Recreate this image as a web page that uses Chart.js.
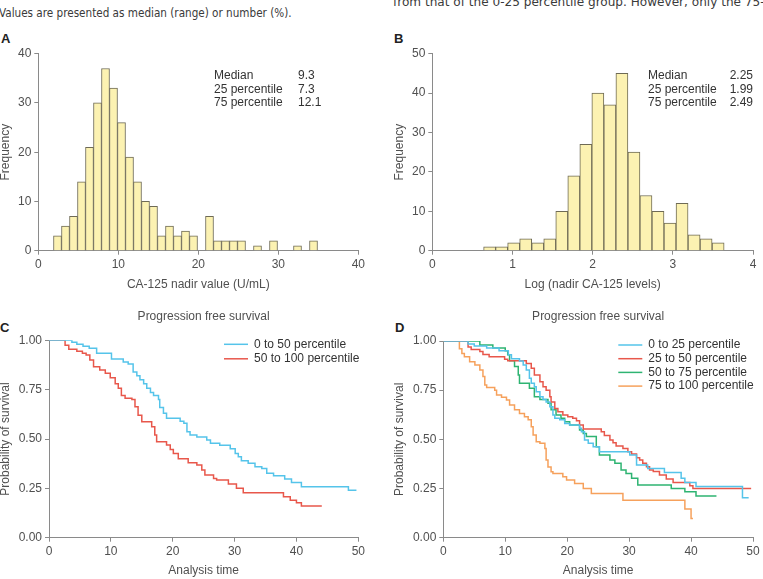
<!DOCTYPE html>
<html>
<head>
<meta charset="utf-8">
<script src="https://cdn.jsdelivr.net/npm/chart.js@4"></script>
<style>
  body { margin: 0; background: #fff; width: 763px; height: 579px; overflow: hidden; position: relative; font-family: "Liberation Sans", Arial, sans-serif; }
  canvas { position: absolute; }
  .txt { position: absolute; white-space: nowrap; color: #3a3a3a; font-family: "Liberation Sans Narrow", "DejaVu Sans Condensed", "Liberation Sans", sans-serif; font-size: 13px; transform-origin: 0 50%; }
  .lab { position: absolute; font-weight: bold; font-size: 13px; color: #222; font-family: "Liberation Sans", Arial, sans-serif; }
</style>
</head>
<body>
<div class="txt" id="t1" style="left:-1px; top:5px;">Values are presented as median (range) or number (%).</div>
<div class="txt" id="t2" style="left:393px; top:-6px;">from that of the 0-25 percentile group. However, only the 75-</div>
<div class="lab" style="left:1px; top:31px;">A</div>
<div class="lab" style="left:394px; top:31px;">B</div>
<div class="lab" style="left:0px; top:320px;">C</div>
<div class="lab" style="left:395px; top:320px;">D</div>
<canvas id="chartA" width="380" height="260" style="left:0; top:40px;"></canvas>
<canvas id="chartB" width="380" height="260" style="left:383px; top:40px;"></canvas>
<canvas id="chartC" width="380" height="279" style="left:0; top:300px;"></canvas>
<canvas id="chartD" width="380" height="279" style="left:383px; top:300px;"></canvas>
<script>
'use strict';

// 上のテキストの幅を元画像に合わせる
[['t1', 293], ['t2', 372]].forEach(([id, w]) => {
  const el = document.getElementById(id);
  el.style.transform = 'scaleX(' + (w / el.offsetWidth) + ')';
});

// A: CA-125 nadir value のヒストグラム (幅 1.0, 1.9 から)
const binStartA = 1.9;
const binWidthA = 1.0;
const countsA = [3, 5, 7, 14, 21, 30, 37, 33, 26, 19, 14, 10, 9, 3, 5, 3, 4, 3, 0, 7, 2, 2, 2, 2, 0, 1, 0, 2, 0, 0, 1, 0, 2];
const statsA = [['Median', '9.3'], ['25 percentile', '7.3'], ['75 percentile', '12.1']];

// B: Log (nadir CA-125) のヒストグラム
const binStartB = 0.64;
const binWidthB = 0.15;
const countsB = [1, 1, 2, 3, 2, 3, 10, 19, 27, 40, 37, 45, 25, 14, 10, 7, 12, 4, 3, 2];
const statsB = [['Median', '2.25'], ['25 percentile', '1.99'], ['75 percentile', '2.49']];

// C: 2群の生存曲線
const labelsC = ['0 to 50 percentile', '50 to 100 percentile'];
const timeC1 = [0, 3.7, 4.5, 5.5, 6.5, 7.7, 10.1, 12.0, 12.8, 13.6, 14.2, 14.7, 15.3, 15.8, 16.4, 16.9, 17.7, 17.9, 18.5, 19.0, 21.2, 21.8, 22.3, 22.8, 23.9, 25.5, 26.1, 27.6, 29.3, 30.1, 30.6, 31.1, 32.2, 33.3, 34.4, 35.2, 36.3, 38.1, 39.2, 40.8, 48.4, 49.7];
const survC1 = [1, 0.99, 0.98, 0.97, 0.96, 0.935, 0.905, 0.89, 0.88, 0.84, 0.82, 0.80, 0.78, 0.757, 0.735, 0.72, 0.70, 0.66, 0.63, 0.605, 0.59, 0.58, 0.537, 0.52, 0.51, 0.495, 0.478, 0.468, 0.45, 0.427, 0.41, 0.39, 0.377, 0.36, 0.35, 0.326, 0.314, 0.297, 0.28, 0.258, 0.24, 0.24];
const timeC2 = [0, 2.6, 3.2, 4.5, 5.4, 6.0, 6.6, 7.2, 8.2, 9.1, 9.9, 10.7, 11.2, 11.7, 12.3, 13.4, 13.9, 14.4, 15.0, 16.6, 17.1, 17.4, 19.0, 19.6, 20.1, 20.9, 22.5, 23.9, 24.7, 25.2, 26.6, 27.1, 29.0, 30.3, 31.4, 37.9, 39.0, 40.0, 40.8, 44.1];
const survC2 = [1, 0.975, 0.955, 0.945, 0.935, 0.925, 0.90, 0.866, 0.85, 0.833, 0.81, 0.78, 0.757, 0.72, 0.706, 0.70, 0.664, 0.62, 0.588, 0.562, 0.52, 0.486, 0.47, 0.447, 0.427, 0.40, 0.38, 0.368, 0.343, 0.318, 0.30, 0.292, 0.272, 0.25, 0.228, 0.208, 0.19, 0.177, 0.16, 0.16];

// D: 4群の生存曲線
const labelsD = ['0 to 25 percentile', '25 to 50 percentile', '50 to 75 percentile', '75 to 100 percentile'];
const timeD1 = [0, 4.0, 5.0, 7.0, 9.0, 10.5, 11.0, 12.3, 12.9, 13.4, 13.9, 14.2, 14.7, 15.0, 15.6, 16.1, 16.6, 17.2, 17.7, 18.0, 18.8, 19.6, 20.4, 22.0, 22.3, 22.8, 23.4, 24.2, 25.2, 30.1, 31.2, 33.0, 35.7, 38.4, 39.0, 40.8, 48.3, 49.3];
const survD1 = [1, 0.985, 0.975, 0.965, 0.95, 0.93, 0.91, 0.898, 0.878, 0.853, 0.81, 0.785, 0.768, 0.742, 0.717, 0.703, 0.69, 0.666, 0.624, 0.607, 0.60, 0.58, 0.573, 0.556, 0.539, 0.497, 0.48, 0.463, 0.437, 0.42, 0.37, 0.352, 0.332, 0.302, 0.28, 0.26, 0.203, 0.203];
const timeD2 = [0, 4.0, 4.5, 5.9, 6.4, 7.4, 9.9, 10.4, 13.4, 14.2, 14.7, 15.6, 16.1, 16.6, 17.2, 17.4, 18.0, 18.5, 19.3, 20.1, 20.9, 21.5, 22.0, 22.6, 25.5, 26.0, 26.9, 27.4, 27.9, 29.0, 29.8, 30.4, 31.2, 31.7, 32.2, 32.8, 33.3, 33.9, 34.9, 36.0, 37.1, 39.8, 40.3, 49.7];
const survD2 = [1, 0.97, 0.957, 0.946, 0.932, 0.92, 0.907, 0.90, 0.886, 0.861, 0.827, 0.793, 0.768, 0.75, 0.717, 0.69, 0.657, 0.64, 0.624, 0.615, 0.607, 0.595, 0.573, 0.552, 0.539, 0.519, 0.497, 0.483, 0.466, 0.454, 0.437, 0.425, 0.407, 0.395, 0.378, 0.361, 0.344, 0.336, 0.319, 0.298, 0.28, 0.264, 0.25, 0.25];
const timeD3 = [0, 5.9, 8.0, 10.0, 10.4, 10.7, 11.5, 12.1, 12.3, 13.9, 14.7, 15.6, 16.9, 17.4, 18.2, 19.0, 19.6, 20.4, 22.0, 22.6, 23.1, 24.7, 25.2, 26.9, 27.7, 28.7, 29.5, 30.4, 31.4, 36.8, 39.0, 40.8, 44.1];
const survD3 = [1, 0.98, 0.965, 0.95, 0.93, 0.90, 0.87, 0.827, 0.785, 0.76, 0.717, 0.703, 0.683, 0.65, 0.624, 0.607, 0.59, 0.573, 0.547, 0.53, 0.514, 0.463, 0.42, 0.395, 0.378, 0.344, 0.327, 0.302, 0.268, 0.25, 0.234, 0.212, 0.212];
const timeD4 = [0, 2.6, 3.0, 3.4, 4.25, 5.1, 5.9, 6.4, 6.7, 7.0, 8.3, 8.6, 9.4, 10.2, 10.7, 11.5, 12.3, 13.1, 13.7, 14.2, 14.5, 15.0, 15.6, 16.4, 16.6, 16.9, 17.4, 17.7, 19.3, 19.9, 21.2, 22.6, 23.9, 29.0, 39.0, 40.0, 40.3];
const survD4 = [1, 0.96, 0.937, 0.92, 0.895, 0.878, 0.853, 0.82, 0.776, 0.764, 0.75, 0.725, 0.714, 0.70, 0.675, 0.65, 0.632, 0.615, 0.60, 0.564, 0.522, 0.488, 0.48, 0.454, 0.395, 0.36, 0.335, 0.327, 0.31, 0.293, 0.276, 0.25, 0.225, 0.19, 0.146, 0.098, 0.098];

const cyan = '#55c4ea';
const red = '#e8574b';
const green = '#2eb472';
const orange = '#f6a15c';
const axisColor = '#8a8a8a';
const textColor = '#505050';
const font = { family: '"Liberation Sans", Arial, sans-serif', size: 12 };

Chart.defaults.animation = false;
Chart.defaults.responsive = false;
Chart.defaults.color = textColor;
Chart.defaults.font = font;

const toBins = (start, width, counts) =>
  counts.map((c, i) => ({ x: start + width * (i + 0.5), y: c })).filter(p => p.y > 0);

const toSteps = (times, surv) => times.map((t, i) => ({ x: t, y: surv[i] }));

// 軸の共通設定
const axis = (min, max, step, title, fixed, titlePad, extra) => Object.assign({
  type: 'linear',
  min: min,
  max: max,
  offset: false,
  ticks: { stepSize: step, color: textColor, padding: 3 },
  grid: { display: true, drawOnChartArea: false, drawTicks: true, tickLength: 4, color: axisColor, offset: false },
  border: { display: true, color: axisColor, width: 1 },
  title: { display: true, text: title, color: textColor, font: Object.assign({}, font, { lineHeight: 1 }), padding: titlePad },
  afterFit: (s) => {
    if (s.isHorizontal()) s.height = fixed; else s.width = fixed;
  }
}, extra || {});

// ヒストグラムの統計値
const statsPlugin = (stats, dxLabel, valueRight, dxValue) => ({
  id: 'stats',
  afterDraw: (chart) => {
    const { ctx, chartArea } = chart;
    ctx.save();
    ctx.font = '12px "Liberation Sans", Arial, sans-serif';
    ctx.fillStyle = '#333';
    ctx.textBaseline = 'middle';
    stats.forEach(([name, val], i) => {
      const y = chartArea.top + 22 + i * 13.5;
      ctx.textAlign = 'left';
      ctx.fillText(name, chartArea.left + dxLabel, y);
      if (valueRight) {
        ctx.textAlign = 'right';
        ctx.fillText(val, chartArea.right, y);
      } else {
        ctx.fillText(val, chartArea.left + dxValue, y);
      }
    });
    ctx.restore();
  }
});

// 生存曲線のタイトルと凡例
const kmPlugin = (titleText, titleDy, rowGap) => ({
  id: 'km',
  afterDraw: (chart) => {
    const { ctx, chartArea } = chart;
    ctx.save();
    ctx.font = '12px "Liberation Sans", Arial, sans-serif';
    ctx.fillStyle = textColor;
    ctx.textAlign = 'center';
    ctx.textBaseline = 'middle';
    ctx.fillText(titleText, (chartArea.left + chartArea.right) / 2, chartArea.top - titleDy);
    ctx.textAlign = 'left';
    chart.data.datasets.forEach((ds, i) => {
      const y = chartArea.top + 4 + i * rowGap;
      ctx.strokeStyle = ds.borderColor;
      ctx.lineWidth = 1.5;
      ctx.beginPath();
      ctx.moveTo(chartArea.left + 175, y);
      ctx.lineTo(chartArea.left + 199, y);
      ctx.stroke();
      ctx.fillStyle = '#333';
      ctx.fillText(ds.label, chartArea.left + 205, y);
    });
    ctx.restore();
  }
});

const histDataset = (data) => ({
  data: data,
  backgroundColor: '#fcf2b2',
  borderColor: '#6e6a55',
  borderWidth: 1,
  barPercentage: 1,
  categoryPercentage: 1
});

const kmDataset = (label, color, times, surv) => ({
  label: label,
  data: toSteps(times, surv),
  borderColor: color,
  backgroundColor: color,
  borderWidth: 1.5,
  pointRadius: 0,
  stepped: 'before',
  fill: false
});

const noPlugins = { legend: { display: false }, tooltip: { enabled: false } };

new Chart(document.getElementById('chartA'), {
  type: 'bar',
  data: { datasets: [histDataset(toBins(binStartA, binWidthA, countsA))] },
  options: {
    layout: { padding: { left: 0, top: 13.7, right: 21.7, bottom: 0 } },
    plugins: noPlugins,
    scales: {
      x: axis(0, 40, 10, 'CA-125 nadir value (U/mL)', 49.3, { top: 0, bottom: 9 }),
      y: axis(0, 40, 10, 'Frequency', 38.3, { top: 0, bottom: 0 })
    }
  },
  plugins: [statsPlugin(statsA, 175.7, false, 259.7)]
});

new Chart(document.getElementById('chartB'), {
  type: 'bar',
  data: { datasets: [histDataset(toBins(binStartB, binWidthB, countsB))] },
  options: {
    layout: { padding: { left: 0, top: 13.7, right: 10, bottom: 0 } },
    plugins: noPlugins,
    scales: {
      x: axis(0, 4, 1, 'Log (nadir CA-125 levels)', 49.3, { top: 0, bottom: 9 }),
      y: axis(0, 50, 10, 'Frequency', 49.3, { top: 10.7, bottom: 0 })
    }
  },
  plugins: [statsPlugin(statsB, 215.7, true, 0)]
});

const survTicks = { callback: (v) => v.toFixed(2) };

new Chart(document.getElementById('chartC'), {
  type: 'line',
  data: {
    datasets: [
      kmDataset(labelsC[0], cyan, timeC1, survC1),
      kmDataset(labelsC[1], red, timeC2, survC2)
    ]
  },
  options: {
    layout: { padding: { left: 0, top: 40.3, right: 21.7, bottom: 0 } },
    plugins: noPlugins,
    scales: {
      x: axis(0, 50, 10, 'Analysis time', 41.3, { top: 0, bottom: 2.3 }),
      y: axis(0, 1, 0.25, 'Probability of survival', 49, { top: 0, bottom: 0 },
        { ticks: { stepSize: 0.25, color: textColor, padding: 3, callback: survTicks.callback } })
    }
  },
  plugins: [kmPlugin('Progression free survival', 23.6, 14.5)]
});

new Chart(document.getElementById('chartD'), {
  type: 'line',
  data: {
    datasets: [
      kmDataset(labelsD[0], cyan, timeD1, survD1),
      kmDataset(labelsD[1], red, timeD2, survD2),
      kmDataset(labelsD[2], green, timeD3, survD3),
      kmDataset(labelsD[3], orange, timeD4, survD4)
    ]
  },
  options: {
    layout: { padding: { left: 0, top: 41, right: 10, bottom: 0 } },
    plugins: noPlugins,
    scales: {
      x: axis(0, 50, 10, 'Analysis time', 41.3, { top: 0, bottom: 2.3 }),
      y: axis(0, 1, 0.25, 'Probability of survival', 60.3, { top: 10.7, bottom: 0 },
        { ticks: { stepSize: 0.25, color: textColor, padding: 3, callback: survTicks.callback } })
    }
  },
  plugins: [kmPlugin('Progression free survival', 24.3, 13.7)]
});
</script>
</body>
</html>
